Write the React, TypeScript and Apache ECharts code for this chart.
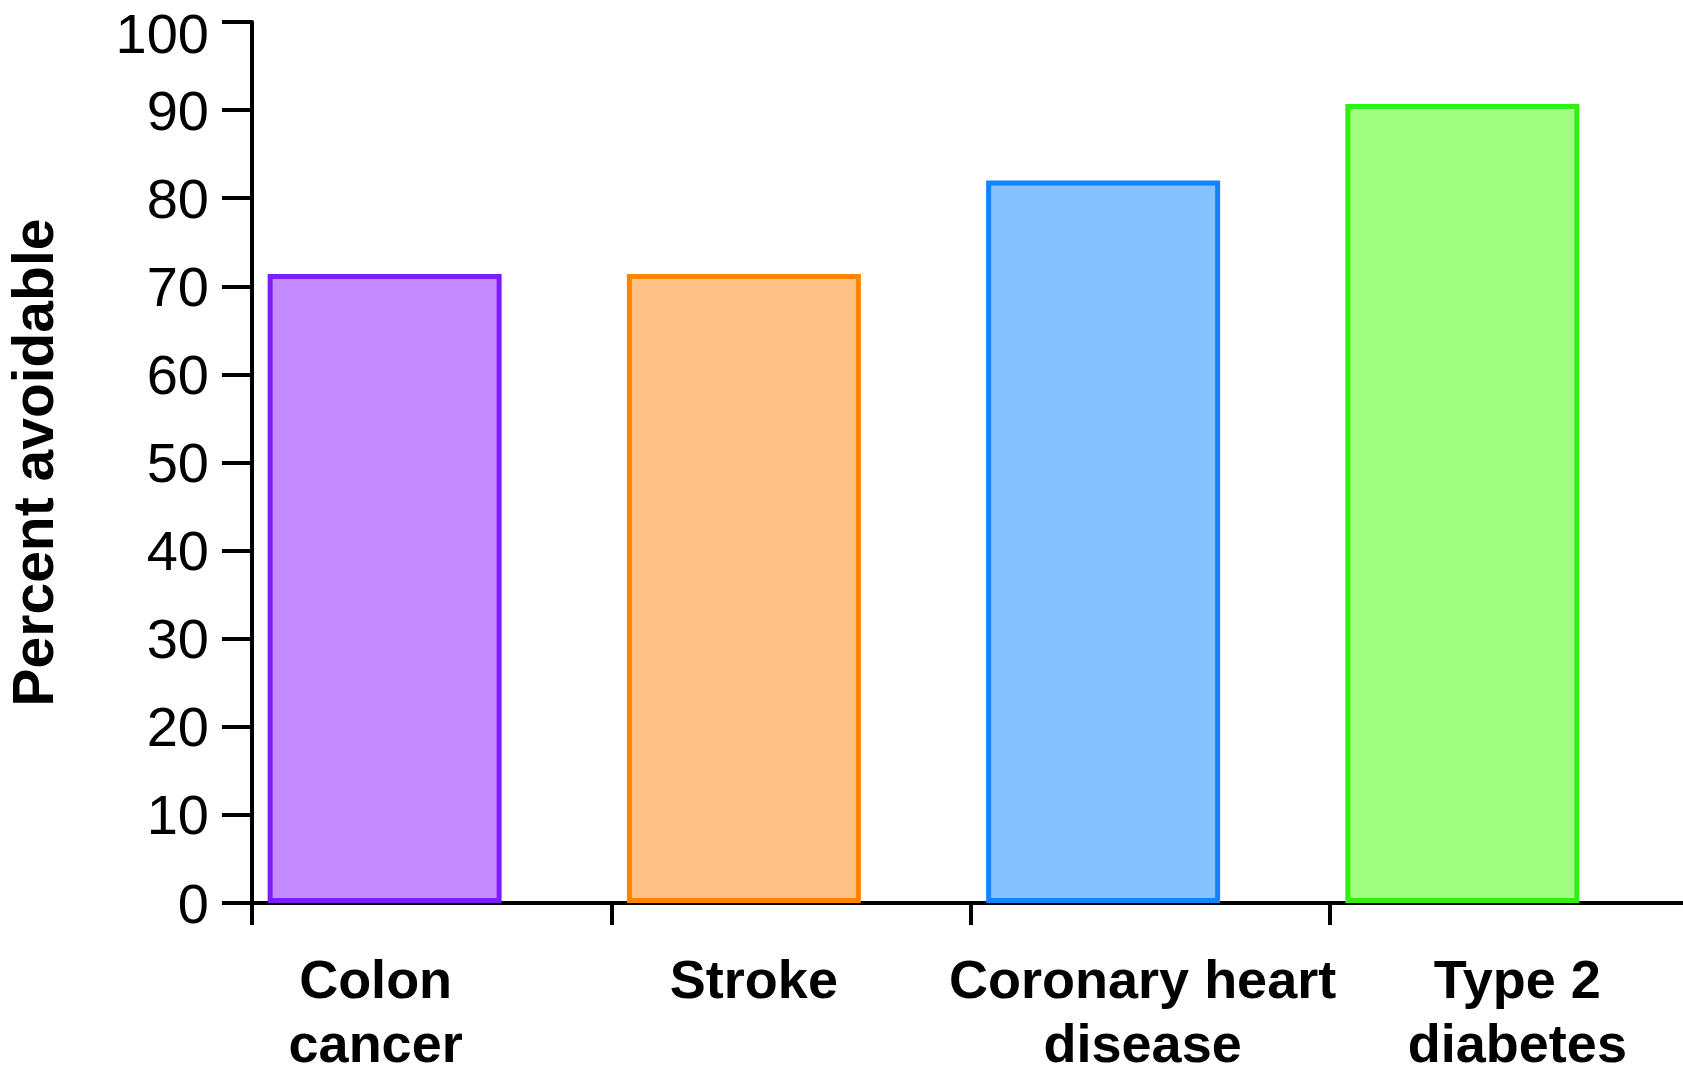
import React, { useEffect, useRef } from "react";
import * as echarts from "echarts";

const categories = ["Colon\ncancer", "Stroke", "Coronary heart\ndisease", "Type 2\ndiabetes"];
const values = [71.4, 71.4, 82, 90.7];
const fillColors = ["#C38BFF", "#FFC285", "#85C2FF", "#A0FF80"];
const borderColors = ["#7F1CFF", "#FF8500", "#1483FF", "#33EE12"];
const yMin = 0;
const yMax = 100;
const yInterval = 10;
const yTitle = "Percent avoidable";

// per-label horizontal nudges [left pad, right pad]
const labelPads: [number, number][] = [
  [0, 112],
  [0, 74],
  [0, 15],
  [16, 0],
];

const FONT = "'Liberation Sans', Arial, Helvetica, sans-serif";

export default function App() {
  const ref = useRef<HTMLDivElement>(null);
  useEffect(() => {
    if (!ref.current) return;
    const chart = echarts.init(ref.current, null, { renderer: "svg" });
    const rich: Record<string, any> = {};
    labelPads.forEach((p, i) => {
      rich["c" + i] = {
        fontFamily: FONT,
        fontSize: 54,
        fontWeight: "bold",
        color: "#000",
        lineHeight: 64,
        padding: [0, p[1], 0, p[0]],
      };
    });
    const option: any = {
      animation: false,
      backgroundColor: "#ffffff",
      grid: [
        { left: 252, width: 1437, top: 22, bottom: 163, containLabel: false, outerBoundsMode: "none" },
        { left: 205, width: 1437, top: 22, bottom: 163, containLabel: false, outerBoundsMode: "none" },
      ],
      xAxis: [
        {
          type: "category",
          gridIndex: 0,
          data: categories,
          boundaryGap: true,
          axisLine: { show: true, lineStyle: { color: "#000", width: 4 } },
          axisTick: { show: true, length: 22, lineStyle: { color: "#000", width: 4 } },
          axisLabel: {
            interval: 0,
            margin: 44,
            fontFamily: FONT,
            fontSize: 54,
            fontWeight: "bold",
            color: "#000",
            lineHeight: 64,
            formatter: (value: string, index: number) =>
              value
                .split("\n")
                .map((l) => `{c${index}|${l}}`)
                .join("\n"),
            rich,
          },
          splitLine: { show: false },
        },
        {
          type: "category",
          gridIndex: 1,
          data: categories,
          boundaryGap: true,
          show: false,
        },
      ],
      yAxis: [
        {
          type: "value",
          gridIndex: 0,
          min: yMin,
          max: yMax,
          interval: yInterval,
          name: yTitle,
          nameLocation: "middle",
          nameGap: 191,
          nameRotate: 90,
          nameTextStyle: {
            fontFamily: FONT,
            fontSize: 57,
            fontWeight: "bold",
            color: "#000",
          },
          axisLine: { show: true, lineStyle: { color: "#000", width: 4 } },
          axisTick: { show: true, length: 30, lineStyle: { color: "#000", width: 4 } },
          axisLabel: {
            margin: 43,
            fontFamily: FONT,
            fontSize: 56,
            color: "#000",
            formatter: (v: number) => (v === yMax ? `{top|${v}}` : `${v}`),
            rich: {
              top: {
                fontFamily: FONT,
                fontSize: 56,
                color: "#000",
                lineHeight: 20,
                padding: [22, 0, 0, 0],
              },
            },
          },
          splitLine: { show: false },
        },
        {
          type: "value",
          gridIndex: 1,
          min: yMin,
          max: yMax,
          interval: yInterval,
          show: false,
          splitLine: { show: false },
        },
      ],
      series: [
        {
          type: "bar",
          xAxisIndex: 1,
          yAxisIndex: 1,
          barWidth: 234,
          data: values.map((v, i) => ({
            value: v,
            itemStyle: {
              color: fillColors[i],
              borderColor: borderColors[i],
              borderWidth: 5,
            },
          })),
          z: 1,
        },
      ],
    };
    chart.setOption(option);
    return () => chart.dispose();
  }, []);
  return (
    <div
      ref={ref}
      style={{ position: "fixed", left: 0, top: 0, width: 1683, height: 1066, background: "#fff" }}
    />
  );
}
